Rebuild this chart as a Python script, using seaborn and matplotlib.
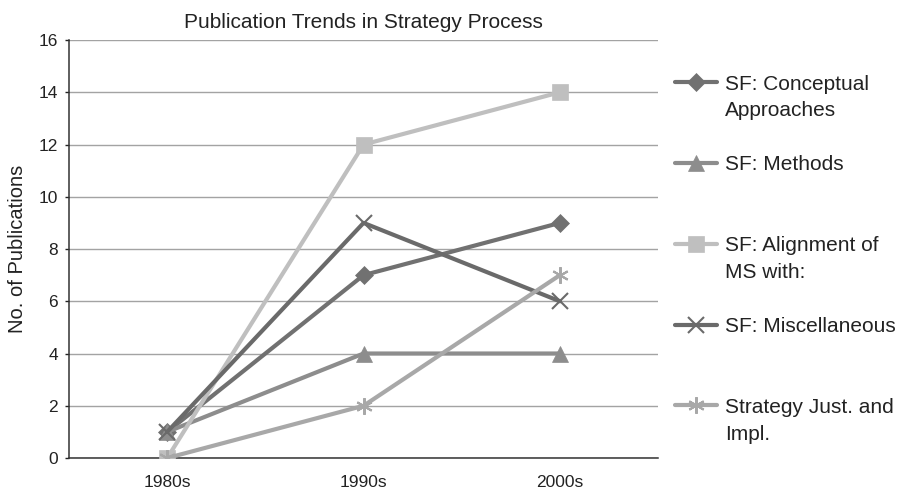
import matplotlib
matplotlib.use("Agg")
import matplotlib.pyplot as plt
import seaborn as sns
import pandas as pd

decades = ["1980s", "1990s", "2000s"]
series_names = [
    "SF: Conceptual\nApproaches",
    "SF: Methods",
    "SF: Alignment of\nMS with:",
    "SF: Miscellaneous",
    "Strategy Just. and\nImpl.",
]
conceptual = [1, 7, 9]
methods = [1, 4, 4]
alignment = [0, 12, 14]
miscellaneous = [1, 9, 6]
strategy_just = [0, 2, 7]
y_ticks = [0, 2, 4, 6, 8, 10, 12, 14, 16]

series_values = [conceptual, methods, alignment, miscellaneous, strategy_just]
colors = ["#717171", "#8d8d8d", "#bfbfbf", "#6a6a6a", "#a8a8a8"]
markers = ["D", "^", "s", "x", (6, 2, 0)]
marker_sizes = [9, 11, 11, 11, 12]

rows = []
for name, vals in zip(series_names, series_values):
    for d, v in zip(decades, vals):
        rows.append({"Decade": d, "Publications": v, "Series": name})
df = pd.DataFrame(rows)

sns.set_theme(style="white")
plt.rcParams["font.family"] = ["Liberation Sans", "DejaVu Sans"]
text_color = "#222222"

fig = plt.figure(figsize=(8.99, 4.90), dpi=100)
ax = fig.add_axes([0.0768, 0.0653, 0.6552, 0.8530])

for name, col, mk, ms in zip(series_names, colors, markers, marker_sizes):
    sub = df[df["Series"] == name]
    thin = mk == "x" or isinstance(mk, tuple)
    sns.lineplot(data=sub, x="Decade", y="Publications", ax=ax, color=col,
                 linewidth=3.0, marker=mk, markersize=ms,
                 markeredgecolor=col, markeredgewidth=1.5 if thin else 0.5,
                 label=name, sort=False, zorder=3)

ax.set_xlim(-0.5, 2.5)
ax.set_ylim(0, 16)
ax.set_yticks(y_ticks)
ax.set_xticks(range(len(decades)))
ax.set_xticklabels(decades)
ax.yaxis.grid(True, color="#a3a3a3", linewidth=1.0)
ax.set_axisbelow(True)
for s in ["top", "right"]:
    ax.spines[s].set_visible(False)
for s in ["bottom", "left"]:
    ax.spines[s].set_color("#333333")
    ax.spines[s].set_linewidth(1.1)
ax.tick_params(axis="x", labelsize=12.5, colors=text_color, length=0, pad=12)
ax.tick_params(axis="y", labelsize=12.5, colors=text_color, length=3,
               width=1.0, direction="out", left=True, pad=5)
ax.set_xlabel("")
ax.set_ylabel("No. of Publications", fontsize=14.5, color=text_color,
              labelpad=8)
ax.set_title("Publication Trends in Strategy Process", fontsize=15,
             color=text_color, pad=9)

# Legend: one entry per series, marker aligned with the first text line
handles, labels = ax.get_legend_handles_labels()
ax.get_legend().remove()
fig_w = fig.get_figwidth() * fig.dpi
fig_h = fig.get_figheight() * fig.dpi
first_line_px = 84
step_px = 80.8
line_gap_px = 27
legend_fs = 15
entries = []
for i, (h, lab) in enumerate(zip(handles, labels)):
    lines = lab.split("\n")
    y = 1 - (first_line_px + i * step_px) / fig_h
    leg = fig.legend([h], [lines[0]], loc="center left",
                     bbox_to_anchor=(0.751, y), frameon=False,
                     fontsize=legend_fs, handlelength=2.0, handletextpad=0.38,
                     borderpad=0, borderaxespad=0, labelcolor=text_color)
    entries.append((leg, lines))

# Continuation lines go under the first line of each legend label
fig.canvas.draw()
renderer = fig.canvas.get_renderer()
for leg, lines in entries:
    if len(lines) < 2:
        continue
    t = leg.get_texts()[0]
    tx, ty = t.get_transform().transform(t.get_position())
    bb = t.get_window_extent(renderer)
    for k, extra in enumerate(lines[1:], start=1):
        fig.text(bb.x0 / fig_w, (ty - k * line_gap_px) / fig_h, extra,
                 fontsize=legend_fs, color=text_color,
                 ha="left", va=t.get_va())

fig.savefig("out.png", dpi=100)
